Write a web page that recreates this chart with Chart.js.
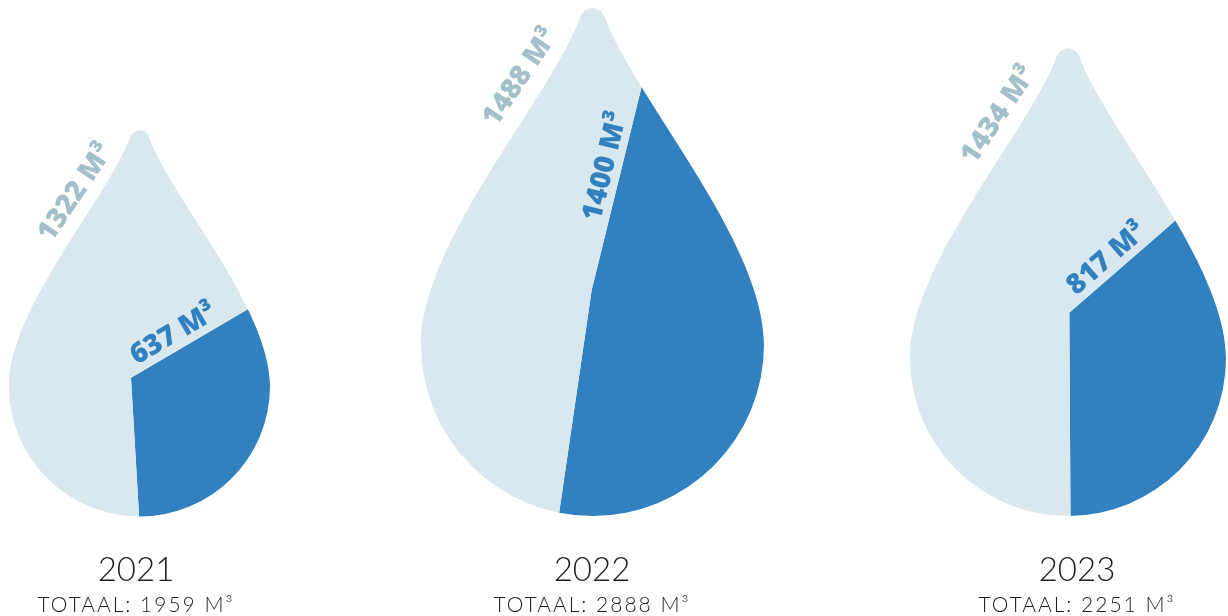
<!DOCTYPE html>
<html>
<head>
<meta charset="utf-8">
<script src="https://cdn.jsdelivr.net/npm/chart.js@4.4.1/dist/chart.umd.min.js"></script>
<style>
  html, body { margin: 0; padding: 0; background: #fff; overflow: hidden; }
  #wrap { position: relative; width: 1228px; height: 616px; }
  #wrap canvas { position: absolute; left: 0; top: 0; }
  .year, .total { position: absolute; width: 300px; text-align: center; font-family: Lato, sans-serif; font-weight: 300; color: #1d1d1b; white-space: nowrap; }
  .year { font-size: 33px; line-height: 40px; }
  .total { font-size: 21px; line-height: 26px; letter-spacing: 2px; }
</style>
</head>
<body>
<div id="wrap"></div>
<script>
var years = ['2021', '2022', '2023'];
var partM3 = [637, 1400, 817];     // donkerblauw deel
var restM3 = [1322, 1488, 1434];   // lichtblauw deel
var unit = 'M³';

var darkBlue = '#3180bf';
var lightBlue = '#d9e8ee';
var greyText = '#a3c0ca';

// where each drop sits on the page: circle centre + radius, pie centre, start angle
var drops = [
  {cx: 139.5, cy: 386, r: 130.5, px: 131, py: 377.7, rot: 59.6, textX: 136},
  {cx: 592.5, cy: 344.5, r: 171.5, px: 591.7, py: 290, rot: 13.8, textX: 592},
  {cx: 1068, cy: 358, r: 158, px: 1069.3, py: 312.7, rot: 49, textX: 1077}
];
var tipFactor = 1.96;
var W = 1228, H = 616;

// drop outline: small round cap at the top, curved sides, half circle at the bottom
function dropPath(ctx, cx, cy, r) {
  var rho = 0.075 * r;
  var del = 20 * Math.PI / 180;
  var capY = cy - tipFactor * r + rho;
  var sx = rho * Math.cos(del), sy = capY - rho * Math.sin(del);
  var h = 0.5 * r;
  ctx.beginPath();
  ctx.arc(cx, capY, rho, Math.PI + del, 2 * Math.PI - del, false);
  ctx.bezierCurveTo(cx + sx + h * Math.sin(del), sy + h * Math.cos(del), cx + r, cy - 0.6 * r, cx + r, cy);
  ctx.arc(cx, cy, r, 0, Math.PI, false);
  ctx.bezierCurveTo(cx - r, cy - 0.6 * r, cx - sx - h * Math.sin(del), sy + h * Math.cos(del), cx - sx, sy);
  ctx.closePath();
}

function boldText(ctx, text, x, y, color) {
  ctx.font = 'normal normal 800 28px "Open Sans"';
  ctx.fillStyle = color;
  ctx.textAlign = 'right';
  ctx.textBaseline = 'alphabetic';
  ctx.fillText(text, x, y);
}

var dropPlugin = {
  id: 'drop',
  beforeDatasetsDraw: function(chart, args, opts) {
    var arc = chart.getDatasetMeta(0).data[0];
    var ctx = chart.ctx;
    ctx.save();
    dropPath(ctx, arc.x + opts.dx, arc.y + opts.dy, opts.r);
    ctx.clip();
  },
  afterDatasetsDraw: function(chart, args, opts) {
    var ctx = chart.ctx;
    ctx.restore();
    var arc = chart.getDatasetMeta(0).data[0];
    var p = arc.getProps(['x', 'y', 'startAngle'], true);
    var cx = p.x + opts.dx, cy = p.y + opts.dy, r = opts.r;

    // label of the dark slice, along its first edge, ending short of the drop border
    ctx.save();
    dropPath(ctx, cx, cy, r);
    var dist = 0;
    while (dist < 800 && ctx.isPointInPath(p.x + Math.cos(p.startAngle) * dist, p.y + Math.sin(p.startAngle) * dist)) {
      dist += 1;
    }
    ctx.translate(p.x, p.y);
    ctx.rotate(p.startAngle);
    boldText(ctx, opts.part + ' ' + unit, dist - 30, -8, darkBlue);
    ctx.restore();

    // label of the light slice, outside the upper left edge of the drop
    var tipX = cx, tipY = cy - tipFactor * r;
    ctx.save();
    ctx.translate(tipX - 0.2 * r, tipY + 0.16 * r);
    ctx.rotate(-56 * Math.PI / 180);
    boldText(ctx, opts.rest + ' ' + unit, 0, 0, greyText);
    ctx.restore();
  }
};

var wrap = document.getElementById('wrap');

for (var i = 0; i < drops.length; i++) {
  var d = drops[i];
  var canvas = document.createElement('canvas');
  canvas.width = W;
  canvas.height = H;
  wrap.appendChild(canvas);

  new Chart(canvas, {
    type: 'pie',
    data: {
      labels: ['deel', 'rest'],
      datasets: [{
        data: [partM3[i], restM3[i]],
        backgroundColor: [darkBlue, lightBlue],
        borderWidth: 0
      }]
    },
    options: {
      responsive: false,
      animation: false,
      events: [],
      rotation: d.rot,
      radius: d.r * 2.3,
      layout: {
        padding: {left: d.px - 10, right: W - d.px - 10, top: d.py - 10, bottom: H - d.py - 10}
      },
      plugins: {
        legend: {display: false},
        tooltip: {enabled: false},
        drop: {dx: d.cx - d.px, dy: d.cy - d.py, r: d.r, part: partM3[i], rest: restM3[i]}
      }
    },
    plugins: [dropPlugin]
  });

  var y = document.createElement('div');
  y.className = 'year';
  y.style.left = (d.textX - 150) + 'px';
  y.style.top = '548px';
  y.textContent = years[i];
  wrap.appendChild(y);

  var t = document.createElement('div');
  t.className = 'total';
  t.style.left = (d.textX - 150) + 'px';
  t.style.top = '591px';
  t.textContent = 'TOTAAL: ' + (partM3[i] + restM3[i]) + ' ' + unit;
  wrap.appendChild(t);
}
</script>
</body>
</html>
